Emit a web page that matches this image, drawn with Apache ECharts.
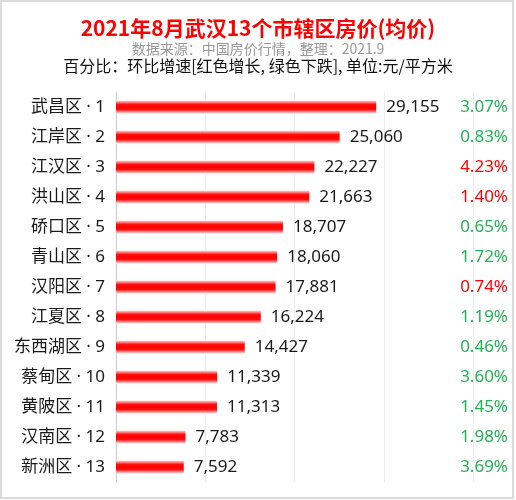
<!DOCTYPE html>
<html>
<head>
<meta charset="utf-8">
<script src="https://cdn.jsdelivr.net/npm/echarts@6/dist/echarts.min.js"></script>
<style>
  html, body { margin: 0; padding: 0; background: #fff; }
  #wrap { position: relative; width: 516px; height: 500px; }
  #chart { position: absolute; left: 0; top: 0; width: 516px; height: 500px; }
  #frame { position: absolute; left: 0; top: 0; width: 514px; height: 499px; box-sizing: border-box; border: 2px solid #dcdcdc; pointer-events: none; }
</style>
</head>
<body>
<div id="wrap"><div id="chart"></div><div id="frame"></div></div>
<script>
const districts = ['武昌区','江岸区','江汉区','洪山区','硚口区','青山区','汉阳区','江夏区','东西湖区','蔡甸区','黄陂区','汉南区','新洲区'];
const prices = [29155, 25060, 22227, 21663, 18707, 18060, 17881, 16224, 14427, 11339, 11313, 7783, 7592];
const changes = ['3.07%','0.83%','4.23%','1.40%','0.65%','1.72%','0.74%','1.19%','0.46%','3.60%','1.45%','1.98%','3.69%'];
const trends = ['down','down','up','up','down','down','up','down','down','down','down','down','down'];
const xTicks = [0, 10000, 20000, 30000, 40000];

const FONT = "'Noto Sans CJK SC', 'Noto Sans', sans-serif";
const LFONT = "'Noto Sans', 'Noto Sans CJK SC', sans-serif";
const chart = echarts.init(document.getElementById('chart'));
chart.setOption({
  animation: false,
  backgroundColor: '#fff',
  textStyle: { fontFamily: FONT },
  title: [
    { text: '2021年8月武汉13个市辖区房价(均价)', left: 'center', top: 13,
      textStyle: { color: '#ff0000', fontSize: 21, fontWeight: 'bold', fontFamily: FONT } },
    { text: '数据来源：中国房价行情，整理：2021.9', left: 'center', top: 37,
      textStyle: { color: '#999999', fontSize: 14, fontWeight: 'normal', fontFamily: FONT } },
    { text: '百分比：环比增速[红色增长, 绿色下跌], 单位:元/平方米', left: 'center', top: 53,
      textStyle: { color: '#111111', fontSize: 16, fontWeight: 'normal', fontFamily: FONT } }
  ],
  grid: { left: 116, right: 43, top: 92, bottom: 18, containLabel: false },
  xAxis: {
    type: 'value', min: xTicks[0], max: xTicks[xTicks.length - 1], interval: xTicks[1] - xTicks[0],
    axisLabel: { show: false }, axisLine: { show: false }, axisTick: { show: false },
    splitLine: { show: true, lineStyle: { color: '#ececec', width: 1 } }
  },
  yAxis: [
    {
      type: 'category', data: districts, inverse: true,
      axisLine: { show: true, lineStyle: { color: '#cccccc' } },
      axisTick: { show: false },
      axisLabel: {
        margin: 11, fontSize: 17, color: '#1a1a1a', fontFamily: LFONT,
        formatter: (v, i) => v + ' · ' + (i + 1)
      }
    },
    {
      type: 'category', data: changes, inverse: true, position: 'right',
      axisLine: { show: false }, axisTick: { show: false },
      axisLabel: {
        margin: 35, align: 'right', fontSize: 17, fontFamily: LFONT,
        formatter: (v, i) => (trends[i] === 'up' ? '{r|' : '{g|') + v + '}',
        rich: {
          r: { color: '#ff0000', fontSize: 17, fontFamily: LFONT },
          g: { color: '#22b454', fontSize: 17, fontFamily: LFONT }
        }
      }
    }
  ],
  series: [{
    type: 'bar', yAxisIndex: 0, data: prices, barWidth: 13,
    itemStyle: {
      color: new echarts.graphic.LinearGradient(0, 0, 0, 1, [
        { offset: 0, color: '#f6e0e0' },
        { offset: 0.3, color: '#ff1010' },
        { offset: 0.5, color: '#ff0000' },
        { offset: 0.7, color: '#ff1010' },
        { offset: 1, color: '#f6e0e0' }
      ])
    },
    label: {
      show: true, position: 'right', distance: 10, fontSize: 17, color: '#1a1a1a', fontFamily: LFONT,
      formatter: p => p.value.toLocaleString('en-US')
    }
  }]
});
</script>
</body>
</html>
